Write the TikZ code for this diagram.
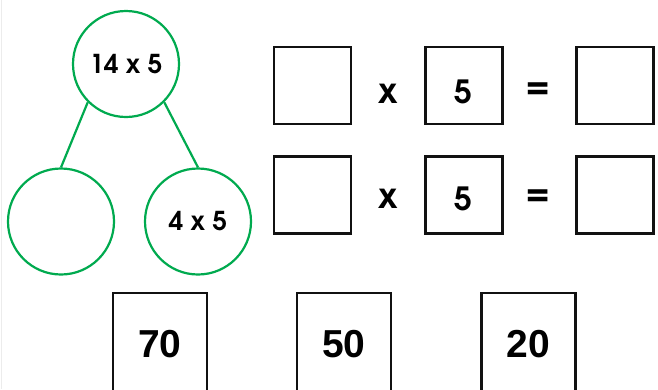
\documentclass[tikz,border=0pt]{standalone}
\usepackage{fontspec}
\setmainfont{Liberation Sans}
\newfontfamily\gothic{texgyreadventor}[Extension=.otf, UprightFont=*-regular, BoldFont=*-bold]
\definecolor{bondgreen}{HTML}{00AA4F}
\definecolor{boxblack}{HTML}{111111}
\begin{document}
\begin{tikzpicture}[x=1pt,y=-1pt,
  bond/.style={circle, draw=bondgreen, line width=2.2pt, minimum size=106pt, inner sep=0pt, font=\gothic\bfseries\fontsize{26}{26}\selectfont},
  link/.style={draw=bondgreen, line width=2.2pt},
  sq/.style={rectangle, draw=boxblack, line width=2.4pt, minimum width=77pt, minimum height=77pt, inner sep=0pt},
  digit/.style={inner sep=0pt, font=\gothic\bfseries\fontsize{32}{32}\selectfont},
  op/.style={inner sep=0pt, font=\gothic\bfseries\fontsize{35}{35}\selectfont},
  ans/.style={rectangle, draw=boxblack, line width=2.4pt, minimum width=94pt, minimum height=102pt, inner sep=0pt, font=\bfseries\fontsize{39}{39}\selectfont}]
\useasboundingbox (0,0) rectangle (658,389);
\clip (0,0) rectangle (658,389);
\fill[white] (0,0) rectangle (658,389);
\draw[gray!15, line width=1pt] (1,0) -- (1,389);
% number bond
\node[bond] (top) at (126,64) {14 x 5};
\node[bond] (bl) at (61,221.5) {};
\node[bond] (br) at (198,221.5) {4 x 5};
\draw[link] (top.225) -- (bl.north);
\draw[link] (top.315) -- (br.north);
% row 1
\node[sq] (a1) at (312.5,85.5) {};
\node[op] (x1) at (388,93.5) {x};
\node[sq] (b1) at (464,85.5) {};
\node[digit] (d1) at (463,91.5) {5};
\node[op] (e1) at (538,90) {=};
\node[sq] (c1) at (615,85.5) {};
% row 2
\node[sq] (a2) at (312.5,195) {};
\node[op] (x2) at (388,199) {x};
\node[sq] (b2) at (464,195) {};
\node[digit] (d2) at (463,199) {5};
\node[op] (e2) at (538,197.5) {=};
\node[sq] (c2) at (615,195) {};
% answers
\node[ans] (n70) at (160,344) {70};
\node[ans] (n50) at (344,344) {50};
\node[ans] (n20) at (528.5,344) {20};
\end{tikzpicture}
\end{document}
